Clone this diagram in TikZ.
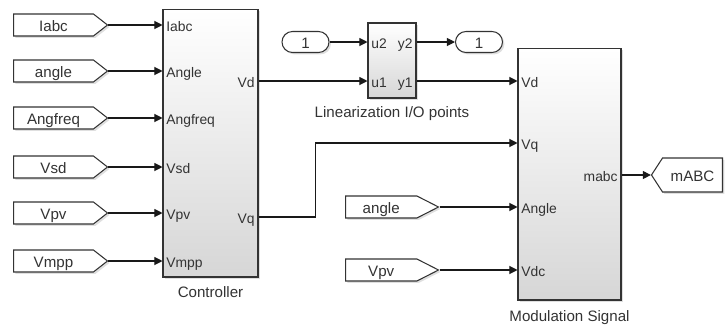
\documentclass[tikz,border=0pt]{standalone}
\usepackage{fontspec}
\setmainfont{Liberation Sans}
\usetikzlibrary{shapes.symbols,shapes.misc,arrows.meta,shadows}

\newcommand\tagfont{\fontsize{8.6}{10}\selectfont}
\newcommand\portfont{\fontsize{7.9}{9}\selectfont}

\tikzset{
  wire/.style={draw=black!90,line width=0.6pt,-{Triangle[length=4.6pt,width=4.6pt]}},
  bayang/.style={drop shadow={opacity=0.25,shadow xshift=1.1pt,shadow yshift=-1.1pt}},
  blok/.style={draw=black!80,line width=0.6pt,top color=white,bottom color=black!16,
    inner sep=0pt,bayang},
  tagkiri/.style={signal,signal to=east,draw=black!80,fill=white,line width=0.6pt,
    minimum height=0.44cm,inner sep=0pt,font=\tagfont,text=black!80,
    text height=0.72em,text depth=0pt,bayang},
  konst/.style={rounded rectangle,draw=black!80,fill=white,line width=0.6pt,
    minimum width=0.94cm,minimum height=0.42cm,inner sep=0pt,font=\tagfont,
    text=black!80,text height=0.72em,text depth=0pt,bayang},
  port/.style={font=\portfont,text=black!80,inner sep=2pt,text height=0.72em,text depth=0pt},
  judul/.style={font=\tagfont,text=black!80,inner sep=0pt,anchor=base},
}

\begin{document}
\begin{tikzpicture}[x=0.02cm,y=-0.02cm]
\useasboundingbox (0,0) rectangle (728,325);

% --- Controller ---
\node[blok,minimum width=1.9cm,minimum height=5.36cm] (ctrl) at (210.5,143) {};
\node[judul] (lblctrl) at (210.5,297) {Controller};

\foreach \nm/\tx/\pt/\y in {Iabc/Iabc/Iabc/25, angle/angle/Angle/71,
    Angfreq/Angfreq/Angfreq/118, Vsd/Vsd/Vsd/167, Vpv/Vpv/Vpv/213, Vmpp/Vmpp/Vmpp/261}
{
  \node[tagkiri,minimum width=1.88cm,signal pointer angle=76,anchor=west]
    (tag\nm) at (13,\y) {\tx};
  \draw[wire] (tag\nm.east) -- (tag\nm.east -| ctrl.west);
  \node[port,anchor=west] (p\nm) at (tag\nm.east -| ctrl.west) {\pt};
}
\node[port,anchor=east] (pVd) at (ctrl.east |- 0,81) {Vd};
\node[port,anchor=east] (pVq) at (ctrl.east |- 0,217) {Vq};

% --- Linearization I/O points ---
\node[blok,minimum width=0.96cm,minimum height=1.5cm] (lin) at (392,60.5) {};
\node[judul] (lbllin) at (392,117) {Linearization I/O points};
\node[port,anchor=west] (lu2) at (lin.west |- 0,42) {u2};
\node[port,anchor=east] (ly2) at (lin.east |- 0,42) {y2};
\node[port,anchor=west] (lu1) at (lin.west |- 0,81) {u1};
\node[port,anchor=east] (ly1) at (lin.east |- 0,81) {y1};

\node[konst] (in1) at (305.5,42) {1};
\node[konst] (out1) at (479,42) {1};
\draw[wire] (in1.east) -- (lin.west |- in1.east);
\draw[wire] (lin.east |- out1.west) -- (out1.west);

% --- Modulation Signal ---
\node[blok,minimum width=2.06cm,minimum height=5.04cm] (mod) at (569.5,174) {};
\node[judul] (lblmod) at (569.5,321) {Modulation Signal};
\node[port,anchor=west] (mVd) at (mod.west |- 0,81) {Vd};
\node[port,anchor=west] (mVq) at (mod.west |- 0,143) {Vq};
\node[port,anchor=west] (mAngle) at (mod.west |- 0,207) {Angle};
\node[port,anchor=west] (mVdc) at (mod.west |- 0,270) {Vdc};
\node[port,anchor=east] (mabc) at (mod.east |- 0,175) {mabc};

\node[tagkiri,minimum width=1.86cm,signal pointer angle=54,anchor=west]
  (tagangle2) at (345,207) {angle};
\node[tagkiri,minimum width=1.86cm,signal pointer angle=54,anchor=west]
  (tagVpv2) at (345,270) {Vpv};
\node[tagkiri,signal to=west,minimum width=1.42cm,minimum height=0.68cm,
  signal pointer angle=114,anchor=east] (tagmABC) at (723,175) {mABC};

% sambungan
\draw[wire] (ctrl.east |- 0,81) -- (lin.west |- 0,81);
\draw[wire] (lin.east |- 0,81) -- (mod.west |- 0,81);
\draw[wire] (ctrl.east |- 0,217) -- ++(57,0) |- (mod.west |- 0,143);
\draw[wire] (tagangle2.east) -- (mod.west |- tagangle2.east);
\draw[wire] (tagVpv2.east) -- (mod.west |- tagVpv2.east);
\draw[wire] (mod.east |- tagmABC.west) -- (tagmABC.west);

\end{tikzpicture}
\end{document}
